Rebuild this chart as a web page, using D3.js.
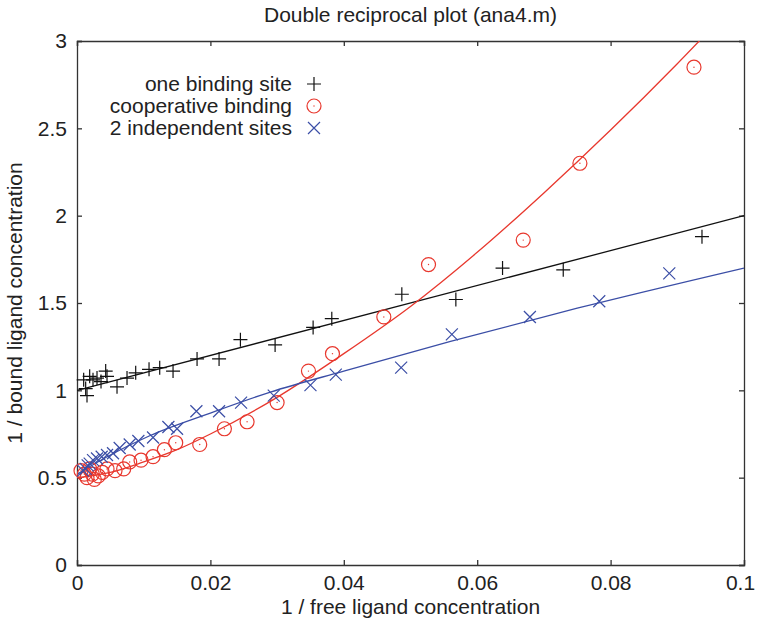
<!DOCTYPE html>
<meta charset="utf-8">
<script src="https://d3js.org/d3.v7.min.js"></script>
<style>
body { margin: 0; background: #fff; }
text { font-family: "Liberation Sans", Arial, sans-serif; fill: #222; }
.axis path, .axis line { stroke: #333; stroke-width: 1.3; }
.axis text { font-size: 21px; fill: #222; }
</style>
<div id="chart"></div>
<script>
// data: [1/free, 1/bound]
var oneSite = [[0.0010,1.06],[0.0013,1.01],[0.0015,0.97],[0.0019,1.08],[0.0024,1.06],[0.0030,1.07],
  [0.0036,1.05],[0.0043,1.11],[0.0045,1.08],[0.0060,1.02],[0.0075,1.07],[0.0088,1.10],[0.0108,1.12],
  [0.0124,1.13],[0.0144,1.11],[0.0180,1.18],[0.0213,1.18],[0.0245,1.29],[0.0297,1.26],[0.0354,1.36],
  [0.0382,1.41],[0.0487,1.55],[0.0568,1.52],[0.0638,1.70],[0.0729,1.69],[0.0937,1.88]];
var coop = [[0.0006,0.54],[0.0011,0.52],[0.0015,0.50],[0.0019,0.55],[0.0023,0.52],[0.0026,0.49],
  [0.0032,0.51],[0.0038,0.53],[0.0045,0.55],[0.0057,0.54],[0.0070,0.55],[0.0079,0.59],[0.0096,0.60],
  [0.0114,0.62],[0.0131,0.66],[0.0148,0.70],[0.0184,0.69],[0.0221,0.78],[0.0255,0.82],[0.0300,0.93],
  [0.0347,1.11],[0.0383,1.21],[0.0460,1.42],[0.0527,1.72],[0.0669,1.86],[0.0754,2.30],[0.0925,2.85]];
var twoSites = [[0.0009,0.54],[0.0013,0.55],[0.0016,0.57],[0.0019,0.58],[0.0024,0.60],[0.0030,0.61],
  [0.0037,0.62],[0.0045,0.63],[0.0054,0.64],[0.0064,0.67],[0.0079,0.69],[0.0092,0.71],[0.0114,0.73],
  [0.0137,0.79],[0.0150,0.78],[0.0179,0.88],[0.0213,0.88],[0.0246,0.93],[0.0295,0.97],[0.0350,1.03],
  [0.0388,1.09],[0.0486,1.13],[0.0562,1.32],[0.0679,1.42],[0.0783,1.51],[0.0888,1.67]];

// fitted curves
var fitOne = [[0,1.00],[0.1,2.00]];
var fitCoop = [[0,0.50],[0.005,0.53],[0.01,0.59],[0.015,0.66],[0.02,0.75],[0.03,0.96],[0.04,1.21],
  [0.05,1.48],[0.06,1.79],[0.07,2.13],[0.08,2.49],[0.09,2.87],[0.1,3.27]];
var fitTwo = [[0,0.52],[0.005,0.63],[0.0109,0.74],[0.02,0.87],[0.029,0.99],[0.04,1.11],[0.056,1.28],
  [0.075,1.47],[0.1,1.70]];

var legendLabels = ["one binding site", "cooperative binding", "2 independent sites"];
var xTicks = [0, 0.02, 0.04, 0.06, 0.08, 0.1];
var xTickLabels = ["0", "0.02", "0.04", "0.06", "0.08", "0.1"];
var yTicks = [0, 0.5, 1, 1.5, 2, 2.5, 3];
var yTickLabels = ["0", "0.5", "1", "1.5", "2", "2.5", "3"];

var margin = {top: 41, right: 13, bottom: 55, left: 77},
    width = 757 - margin.left - margin.right,
    height = 620 - margin.top - margin.bottom;

var svg = d3.select("#chart").append("svg")
    .attr("width", 757)
    .attr("height", 620)
  .append("g")
    .attr("transform", "translate(" + margin.left + "," + margin.top + ")");

var x = d3.scaleLinear().domain([0, 0.1]).range([0, width]);
var y = d3.scaleLinear().domain([0, 3]).range([height, 0]);

var black = "#111", red = "#e8382e", blue = "#3b4ea6";

svg.append("clipPath").attr("id", "clip")
  .append("rect").attr("width", width).attr("height", height);

// axes on all four sides, ticks pointing in
var xAxis = svg.append("g").attr("class", "axis")
    .attr("transform", "translate(0," + height + ")")
    .call(d3.axisBottom(x).tickValues(xTicks).tickSize(-5).tickPadding(10)
      .tickFormat(function(d, i) { return xTickLabels[i]; }));
// last label sits at the page edge, nudge it in a bit
xAxis.selectAll(".tick text").filter(function(d) { return d === 0.1; }).attr("dx", -4);

svg.append("g").attr("class", "axis")
    .call(d3.axisTop(x).tickValues(xTicks).tickSize(-5).tickFormat(""));
svg.append("g").attr("class", "axis")
    .call(d3.axisLeft(y).tickValues(yTicks).tickSize(-5).tickPadding(10)
      .tickFormat(function(d, i) { return yTickLabels[i]; }));
svg.append("g").attr("class", "axis")
    .attr("transform", "translate(" + width + ",0)")
    .call(d3.axisRight(y).tickValues(yTicks).tickSize(-5).tickFormat(""));

// fitted lines
var line = d3.line()
    .x(function(d) { return x(d[0]); })
    .y(function(d) { return y(d[1]); })
    .curve(d3.curveMonotoneX);

var plot = svg.append("g").attr("clip-path", "url(#clip)");
[[fitOne, black], [fitCoop, red], [fitTwo, blue]].forEach(function(s) {
  plot.append("path")
    .datum(s[0])
    .attr("fill", "none")
    .attr("stroke", s[1])
    .attr("stroke-width", 1.3)
    .attr("d", line);
});

// markers
var plusPath = "M-7,0H7M0,-7V7";
var crossPath = "M-6,-6L6,6M-6,6L6,-6";

function drawMarker(g, kind, color) {
  if (kind === "plus") {
    g.append("path").attr("d", plusPath).attr("stroke", color).attr("stroke-width", 1.2).attr("fill", "none");
  } else if (kind === "circle") {
    g.append("circle").attr("r", 7).attr("stroke", color).attr("stroke-width", 1.2).attr("fill", "none");
    g.append("circle").attr("r", 0.7).attr("fill", color);
  } else {
    g.append("path").attr("d", crossPath).attr("stroke", color).attr("stroke-width", 1.2).attr("fill", "none");
  }
}

var series = [[oneSite, "plus", black], [coop, "circle", red], [twoSites, "cross", blue]];
series.forEach(function(s) {
  svg.append("g").selectAll("g")
    .data(s[0])
    .enter().append("g")
    .attr("transform", function(d) { return "translate(" + x(d[0]) + "," + y(d[1]) + ")"; })
    .each(function() { drawMarker(d3.select(this), s[1], s[2]); });
});

// legend
var legend = svg.append("g").attr("transform", "translate(" + (292 - margin.left) + "," + (84 - margin.top) + ")");
series.forEach(function(s, i) {
  var row = legend.append("g").attr("transform", "translate(0," + (i * 22) + ")");
  row.append("text")
    .attr("text-anchor", "end")
    .attr("dy", "0.35em")
    .style("font-size", "21px")
    .text(legendLabels[i]);
  drawMarker(row.append("g").attr("transform", "translate(22,0)"), s[1], s[2]);
});

// title and axis labels
svg.append("text")
    .attr("x", width / 2)
    .attr("y", -19)
    .attr("text-anchor", "middle")
    .style("font-size", "21px")
    .text("Double reciprocal plot (ana4.m)");

svg.append("text")
    .attr("x", width / 2)
    .attr("y", height + 49)
    .attr("text-anchor", "middle")
    .style("font-size", "21px")
    .text("1 / free ligand concentration");

svg.append("text")
    .attr("transform", "rotate(-90)")
    .attr("x", -height / 2)
    .attr("y", -55)
    .attr("text-anchor", "middle")
    .style("font-size", "21px")
    .text("1 / bound ligand concentration");
</script>
